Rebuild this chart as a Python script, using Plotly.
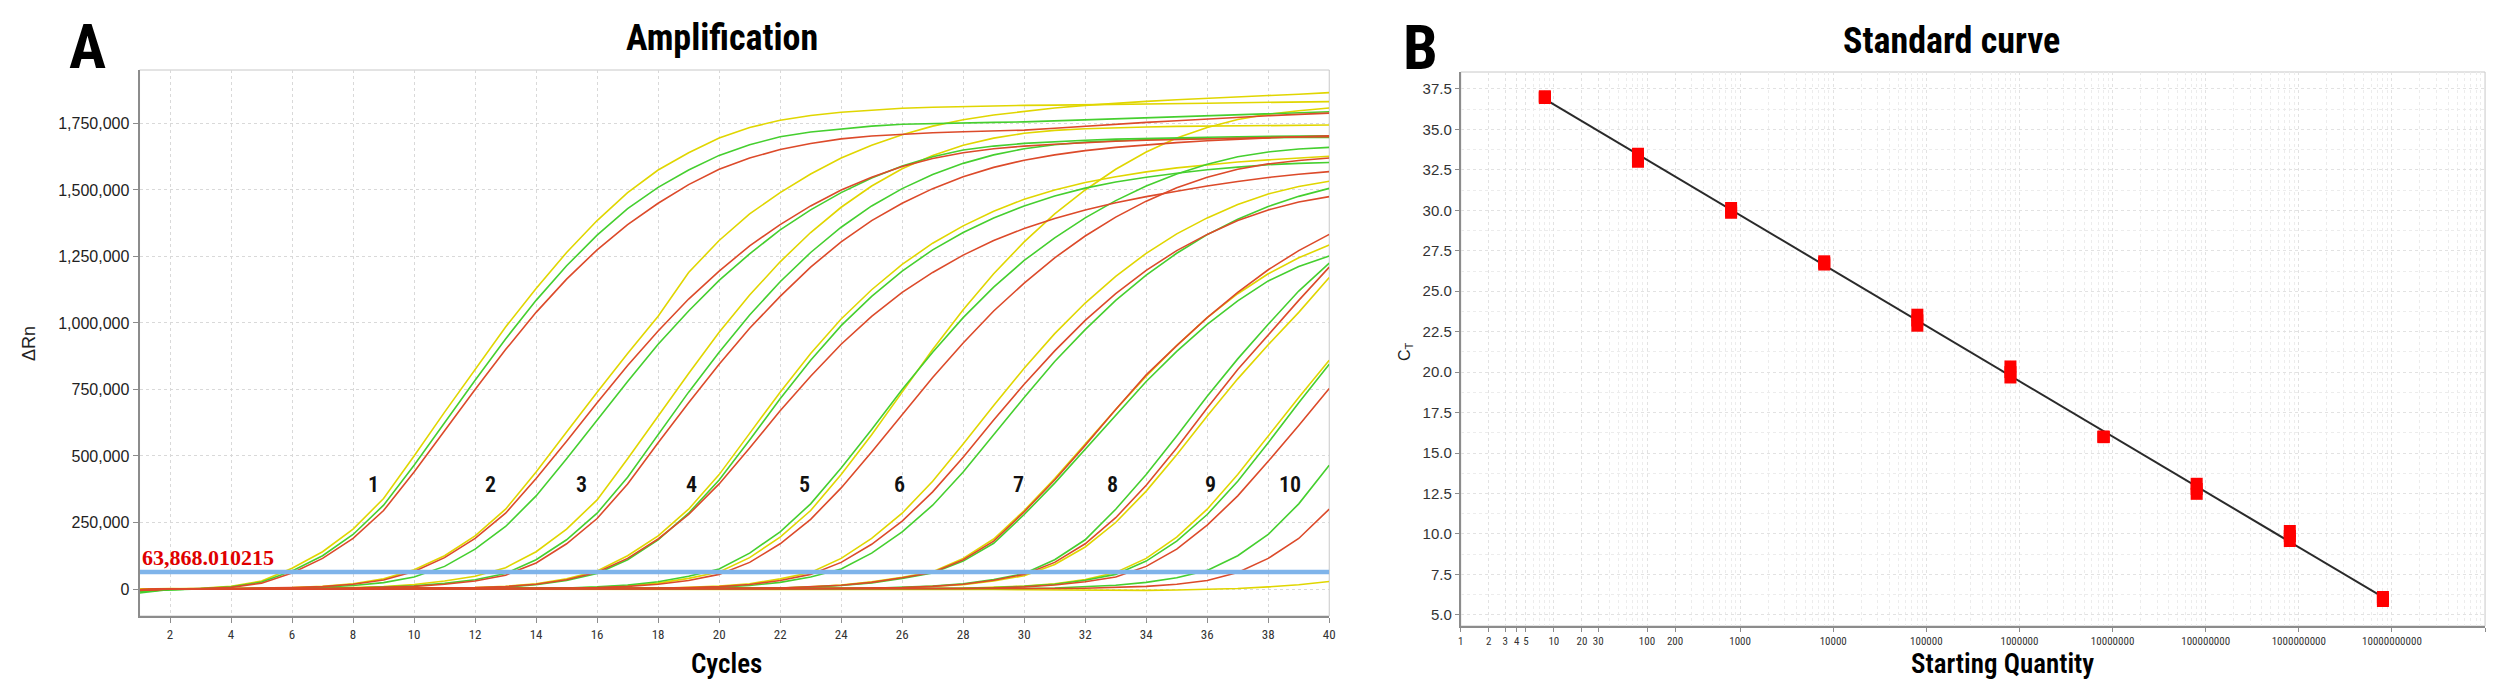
import numpy as np
import plotly.graph_objects as go

# ---------------- data: amplification plot (delta Rn in thousands) ----------------
cycles = list(range(1, 41))
threshold = 63868.010215

g1_y = [-8, 0, 3, 10, 30, 78, 140, 225, 340, 500, 665, 825, 985, 1130, 1265, 1385, 1490, 1575, 1640, 1695,
        1735, 1762, 1780, 1792, 1800, 1807, 1811, 1814, 1816, 1818, 1819, 1820, 1822, 1823, 1825, 1826, 1828, 1829, 1831, 1832]
g1_g = [-15, -2, 2, 8, 26, 68, 125, 205, 315, 465, 625, 785, 940, 1085, 1215, 1330, 1430, 1510, 1575, 1630,
        1670, 1700, 1718, 1730, 1740, 1747, 1750, 1752, 1754, 1756, 1760, 1764, 1768, 1772, 1776, 1780, 1784, 1787, 1790, 1794]
g1_r = [-5, 0, 2, 6, 22, 60, 115, 190, 295, 440, 595, 750, 900, 1040, 1165, 1275, 1370, 1450, 1520, 1578,
        1620, 1652, 1675, 1692, 1703, 1710, 1715, 1719, 1722, 1725, 1732, 1740, 1747, 1754, 1760, 1767, 1773, 1779, 1784, 1789]
g2_y = [-5, 0, 1, 2, 3, 5, 10, 20, 38, 72, 125, 200, 300, 440, 590, 740, 885, 1025, 1190, 1310,
        1410, 1490, 1560, 1620, 1668, 1708, 1740, 1764, 1782, 1796, 1808, 1818, 1826, 1833, 1839, 1845, 1850, 1855, 1860, 1866]
g2_g = [-6, -2, 0, 1, 2, 4, 7, 13, 24, 45, 85, 150, 235, 350, 490, 635, 780, 920, 1045, 1160,
        1260, 1350, 1425, 1490, 1545, 1590, 1625, 1650, 1665, 1675, 1682, 1687, 1691, 1694, 1696, 1698, 1700, 1701, 1703, 1704]
g2_r = [-3, 0, 1, 2, 3, 5, 9, 18, 34, 66, 118, 190, 285, 415, 555, 700, 840, 970, 1090, 1195,
        1290, 1370, 1440, 1500, 1548, 1588, 1618, 1640, 1655, 1665, 1672, 1678, 1683, 1687, 1690, 1693, 1695, 1697, 1699, 1700]
g3_y = [0, 2, 1, 0, 1, 2, 3, 5, 9, 17, 30, 48, 80, 140, 225, 335, 490, 650, 810, 965,
        1105, 1230, 1340, 1435, 1515, 1580, 1630, 1668, 1695, 1713, 1724, 1730, 1734, 1737, 1739, 1740, 1741, 1742, 1743, 1744]
g3_g = [-4, -1, 0, 1, 1, 2, 3, 4, 7, 12, 21, 35, 58, 110, 185, 285, 420, 580, 740, 890,
        1030, 1155, 1265, 1360, 1440, 1505, 1558, 1600, 1632, 1655, 1670, 1680, 1686, 1690, 1692, 1694, 1695, 1696, 1697, 1697]
g3_r = [-2, 0, 0, 1, 1, 2, 2, 4, 6, 10, 18, 30, 52, 98, 170, 265, 395, 550, 700, 845,
        980, 1100, 1210, 1305, 1385, 1450, 1505, 1550, 1585, 1612, 1632, 1648, 1660, 1670, 1678, 1685, 1691, 1696, 1700, 1704]
g4_y = [-3, 0, 1, 0, 1, 1, 2, 2, 2, 3, 3, 5, 10, 20, 38, 68, 125, 200, 300, 430,
        585, 740, 885, 1015, 1125, 1220, 1300, 1365, 1420, 1465, 1500, 1528, 1550, 1568, 1583, 1595, 1605, 1613, 1620, 1627]
g4_g = [-8, -2, 0, 0, 1, 1, 1, 2, 2, 3, 3, 4, 7, 16, 32, 58, 110, 185, 285, 410,
        560, 715, 860, 990, 1100, 1195, 1275, 1340, 1395, 1440, 1477, 1507, 1530, 1548, 1563, 1576, 1586, 1595, 1600, 1603]
g4_r = [-4, 0, 0, 1, 1, 1, 2, 2, 3, 3, 4, 5, 9, 18, 35, 63, 115, 188, 280, 395,
        530, 670, 800, 920, 1025, 1115, 1190, 1255, 1310, 1355, 1393, 1425, 1452, 1475, 1495, 1515, 1532, 1547, 1559, 1569]
g5_y = [-2, 0, 1, 1, 1, 2, 2, 2, 2, 2, 2, 3, 3, 3, 3, 6, 12, 22, 40, 64,
        118, 195, 295, 430, 580, 740, 900, 1050, 1185, 1305, 1410, 1500, 1578, 1643, 1695, 1735, 1765, 1785, 1798, 1808]
g5_g = [-6, -1, 0, 1, 1, 1, 2, 2, 2, 2, 3, 3, 3, 3, 4, 8, 15, 27, 48, 75,
        135, 215, 320, 455, 600, 750, 890, 1020, 1135, 1235, 1320, 1395, 1460, 1515, 1560, 1597, 1625, 1643, 1654, 1660]
g5_r = [-3, 0, 0, 1, 1, 1, 1, 2, 2, 2, 2, 3, 3, 3, 3, 5, 10, 18, 32, 55,
        100, 170, 262, 380, 515, 655, 795, 925, 1045, 1150, 1245, 1327, 1398, 1458, 1508, 1548, 1578, 1598, 1611, 1620]
g6_y = [-1, 0, 1, 1, 1, 2, 2, 2, 2, 2, 2, 2, 3, 3, 3, 3, 3, 3, 6, 11,
        20, 38, 62, 115, 190, 285, 405, 545, 690, 830, 960, 1075, 1175, 1262, 1335, 1395, 1445, 1485, 1513, 1533]
g6_g = [-7, -1, 0, 0, 1, 1, 1, 1, 2, 2, 2, 2, 2, 2, 3, 3, 3, 3, 4, 7,
        13, 25, 45, 75, 135, 215, 315, 440, 580, 720, 855, 975, 1085, 1180, 1262, 1332, 1390, 1438, 1476, 1506]
g6_r = [-4, 0, 0, 1, 1, 1, 1, 2, 2, 2, 2, 2, 2, 3, 3, 3, 3, 3, 5, 9,
        17, 32, 55, 100, 168, 255, 365, 495, 635, 770, 895, 1010, 1110, 1198, 1272, 1333, 1385, 1425, 1455, 1475]
g7_y = [-2, 0, 1, 1, 1, 1, 2, 2, 2, 2, 2, 2, 2, 2, 2, 3, 3, 3, 3, 3,
        3, 4, 8, 15, 27, 44, 65, 115, 188, 295, 415, 545, 675, 800, 915, 1020, 1110, 1185, 1245, 1293]
g7_g = [-5, -1, 0, 0, 1, 1, 1, 1, 1, 2, 2, 2, 2, 2, 2, 2, 2, 3, 3, 3,
        3, 4, 7, 13, 23, 40, 60, 105, 172, 280, 398, 525, 655, 780, 893, 995, 1083, 1158, 1212, 1252]
g7_r = [-3, 0, 0, 1, 1, 1, 1, 1, 2, 2, 2, 2, 2, 2, 2, 3, 3, 3, 3, 3,
        3, 4, 8, 14, 25, 42, 62, 110, 180, 290, 410, 540, 675, 805, 915, 1020, 1115, 1200, 1272, 1333]
g8_y = [-2, 0, 0, 1, 1, 1, 1, 1, 1, 1, 1, 1, 1, 2, 2, 2, 2, 2, 2, 2,
        2, 2, 2, 2, 3, 4, 9, 16, 30, 50, 92, 158, 250, 368, 505, 650, 790, 918, 1040, 1171]
g8_g = [-6, -1, 0, 0, 0, 1, 1, 1, 1, 1, 1, 2, 2, 2, 2, 2, 2, 2, 2, 2,
        2, 2, 2, 2, 3, 6, 11, 20, 36, 58, 110, 185, 300, 430, 575, 725, 865, 995, 1120, 1225]
g8_r = [-3, 0, 0, 0, 1, 1, 1, 1, 1, 1, 1, 1, 2, 2, 2, 2, 2, 2, 2, 2,
        2, 2, 2, 3, 3, 5, 10, 18, 33, 55, 100, 170, 268, 390, 530, 680, 825, 955, 1085, 1210]
g9_y = [-4, 0, 0, 0, 0, 1, 1, 1, 1, 1, 1, 1, 1, 1, 1, 1, 1, 2, 2, 2,
        2, 2, 2, 2, 2, 2, 2, 3, 6, 11, 20, 36, 62, 115, 195, 300, 430, 575, 720, 860]
g9_g = [-9, -2, 0, 0, 0, 0, 1, 1, 1, 1, 1, 1, 1, 1, 1, 1, 1, 1, 2, 2,
        2, 2, 2, 2, 2, 2, 2, 3, 5, 10, 18, 33, 55, 105, 180, 280, 405, 550, 700, 845]
g9_r = [-3, 0, 0, 0, 0, 0, 1, 1, 1, 1, 1, 1, 1, 1, 1, 1, 1, 1, 1, 2,
        2, 2, 2, 2, 2, 2, 2, 2, 4, 8, 15, 27, 45, 85, 150, 240, 350, 480, 615, 754]
g10_y = [-3, 0, 0, 0, 0, 0, 0, 0, 0, 0, 0, 0, 0, 0, 0, 0, 0, 0, 0, 0,
         0, 0, 0, 0, 0, 0, 0, -1, -2, -3, -4, -5, -5, -5, -4, -2, 2, 8, 16, 28]
g10_g = [-10, -2, 0, 0, 0, 0, 0, 1, 1, 1, 1, 1, 1, 1, 1, 1, 1, 1, 1, 1,
         1, 1, 1, 1, 1, 1, 1, 1, 1, 2, 4, 8, 14, 25, 42, 70, 125, 205, 320, 465]
g10_r = [-4, 0, 0, 0, 0, 0, 0, 0, 1, 1, 1, 1, 1, 1, 1, 1, 1, 1, 1, 1,
         1, 1, 1, 1, 1, 1, 1, 1, 1, 1, 2, 3, 6, 10, 18, 32, 62, 115, 190, 300]

yellow_curves = [g1_y, g2_y, g3_y, g4_y, g5_y, g6_y, g7_y, g8_y, g9_y, g10_y]
green_curves = [g1_g, g2_g, g3_g, g4_g, g5_g, g6_g, g7_g, g8_g, g9_g, g10_g]
red_curves = [g1_r, g2_r, g3_r, g4_r, g5_r, g6_r, g7_r, g8_r, g9_r, g10_r]

group_labels = ["1", "2", "3", "4", "5", "6", "7", "8", "9", "10"]
label_cycles = [8.66, 12.5, 15.5, 19.1, 22.8, 25.9, 29.8, 32.9, 36.1, 38.7]
label_level = 391000

amp_yticks = [0, 250000, 500000, 750000, 1000000, 1250000, 1500000, 1750000]

# ---------------- data: standard curve ----------------
quantities = [8, 80, 800, 8000, 80000, 800000, 8000000, 80000000, 800000000, 8000000000]
ct_rep1 = [37.05, 33.50, 30.15, 26.85, 23.55, 20.35, 16.02, 13.10, 10.18, 6.10]
ct_rep2 = [37.00, 33.25, 29.95, 26.75, 23.20, 20.00, 16.00, 12.78, 9.87, 5.98]
ct_rep3 = [36.95, 33.00, 29.85, 26.65, 22.87, 19.67, 15.98, 12.48, 9.56, 5.85]
sq_tickvals = [1, 2, 3, 4, 5, 10, 20, 30, 100, 200, 1000, 10000, 100000, 1000000, 10000000,
               100000000, 1000000000, 10000000000, 100000000000]
ct_ticks = [5.0, 7.5, 10.0, 12.5, 15.0, 17.5, 20.0, 22.5, 25.0, 27.5, 30.0, 32.5, 35.0, 37.5]

# ---------------- styling ----------------
W, H = 2500, 680
NARROW = "Liberation Sans Narrow, Arial Narrow, Roboto Condensed, Roboto, sans-serif"
SANS = "Liberation Sans, Arial, sans-serif"
YEL, GRN, RED = "#e0d600", "#45cf2f", "#dc4a2a"
AXC = "#8c8c8c"
GRIDC = "#d9d9d9"


def px_x(p):
    return p / W


def px_y(p):
    return 1 - p / H


fig = go.Figure()

for color, group in [(YEL, yellow_curves), (GRN, green_curves), (RED, red_curves)]:
    for vals in group:
        fig.add_trace(go.Scatter(x=cycles, y=[v * 1000 for v in vals], mode="lines",
                                 line=dict(color=color, width=1.6), hoverinfo="skip",
                                 showlegend=False, xaxis="x", yaxis="y"))

fig.add_trace(go.Scatter(x=[cycles[0], cycles[-1]], y=[threshold, threshold], mode="lines",
                         line=dict(color="#7fb4ea", width=4.5), showlegend=False,
                         xaxis="x", yaxis="y"))

# standard curve
all_q = quantities * 3
all_ct = ct_rep1 + ct_rep2 + ct_rep3
slope, intercept = np.polyfit(np.log10(all_q), all_ct, 1)
fit_x = [min(quantities), max(quantities)]
fit_y = [slope * np.log10(q) + intercept for q in fit_x]
fig.add_trace(go.Scatter(x=fit_x, y=fit_y, mode="lines", line=dict(color="#2a2a2a", width=2),
                         showlegend=False, xaxis="x2", yaxis="y2"))
for reps in (ct_rep1, ct_rep2, ct_rep3):
    fig.add_trace(go.Scatter(x=quantities, y=reps, mode="markers",
                             marker=dict(symbol="square", size=12, color="#ff0000", line=dict(width=0)),
                             showlegend=False, xaxis="x2", yaxis="y2"))

minor_q = [m * 10 ** d for d in range(0, 11) for m in range(2, 10)]

fig.update_layout(
    width=W, height=H, autosize=False,
    margin=dict(l=0, r=0, t=0, b=0),
    paper_bgcolor="white", plot_bgcolor="white",
    showlegend=False,
    xaxis=dict(domain=[px_x(129), px_x(1323)], range=[1, 40], tick0=0, dtick=2,
               showgrid=True, gridcolor=GRIDC, griddash="dot", gridwidth=1,
               showline=True, linecolor=AXC, linewidth=2, ticks="outside", ticklen=5,
               tickcolor=AXC, tickfont=dict(family=NARROW, size=13, color="#333"),
               zeroline=False, anchor="y"),
    yaxis=dict(domain=[px_y(608), px_y(62)], range=[-101500, 1951000],
               tickvals=amp_yticks, tickformat=",",
               showgrid=True, gridcolor=GRIDC, griddash="dot", gridwidth=1,
               showline=True, linecolor=AXC, linewidth=2, ticks="outside", ticklen=5,
               tickcolor=AXC, tickfont=dict(family=SANS, size=16, color="#222"),
               zeroline=False, anchor="x"),
    xaxis2=dict(domain=[px_x(1455), px_x(2483)], type="log", range=[0, 11],
                tickvals=sq_tickvals, ticktext=[str(v) for v in sq_tickvals],
                showgrid=True, gridcolor="#e2e2e2", griddash="dot", gridwidth=1,
                minor=dict(tickvals=minor_q, showgrid=True, gridcolor="#ececec", griddash="dot", ticks=""),
                showline=True, linecolor=AXC, linewidth=2, ticks="outside", ticklen=4,
                tickcolor=AXC, tickfont=dict(family=NARROW, size=11, color="#333"),
                zeroline=False, anchor="y2"),
    yaxis2=dict(domain=[px_y(618), px_y(64)], range=[4.31, 38.55],
                tickvals=ct_ticks, tickformat=".1f",
                showgrid=True, gridcolor="#e2e2e2", griddash="dot", gridwidth=1,
                minor=dict(dtick=1.25, showgrid=True, gridcolor="#ececec", griddash="dot", ticks=""),
                showline=True, linecolor=AXC, linewidth=2, ticks="outside", ticklen=4,
                tickcolor=AXC, tickfont=dict(family=SANS, size=15, color="#333"),
                zeroline=False, anchor="x2"),
)

# light borders
for xr, yr in (("x domain", "y domain"), ("x2 domain", "y2 domain")):
    fig.add_shape(type="rect", xref=xr, yref=yr, x0=0, x1=1, y0=0, y1=1,
                  line=dict(color="#c8c8c8", width=1), layer="below")

ann = []
# group labels
for txt, cx in zip(group_labels, label_cycles):
    ann.append(dict(x=cx, y=label_level, xref="x", yref="y", text=txt, showarrow=False,
                    xanchor="center", yanchor="middle",
                    font=dict(family=NARROW, size=22, color="#111", weight=600)))
# threshold label
ann.append(dict(x=1, y=threshold, xref="x", yref="y", text=f"{threshold:,.6f}", showarrow=False,
                xanchor="left", yanchor="bottom", yshift=0,
                font=dict(family="Liberation Serif, DejaVu Serif, serif", size=22, color="#e00000", weight=700)))


def paper_text(text, cx, cy, size, weight=700, family=NARROW, angle=0, color="#000", yanchor="middle"):
    return dict(x=px_x(cx), y=px_y(cy), xref="paper", yref="paper", text=text, showarrow=False,
                xanchor="center", yanchor=yanchor, textangle=angle,
                font=dict(family=family, size=size, color=color, weight=weight))


ann += [
    paper_text("A", 77, 0, 62, yanchor="top"),
    paper_text("B", 1415, 1, 62, yanchor="top"),
    paper_text("Amplification", 714, 30, 36),
    paper_text("Standard curve", 1948, 33, 36),
    paper_text("Cycles", 718, 656, 27, weight=600),
    paper_text("Starting Quantity", 1999, 656, 27, weight=600),
    paper_text("ΔRn", 18, 335, 18, weight=400, family=SANS, angle=-90, color="#222"),
    paper_text("C<sub>T</sub>", 1399, 343, 16, weight=400, family=SANS, angle=-90, color="#222"),
]
fig.update_layout(annotations=ann)

fig.write_html("out.html")
